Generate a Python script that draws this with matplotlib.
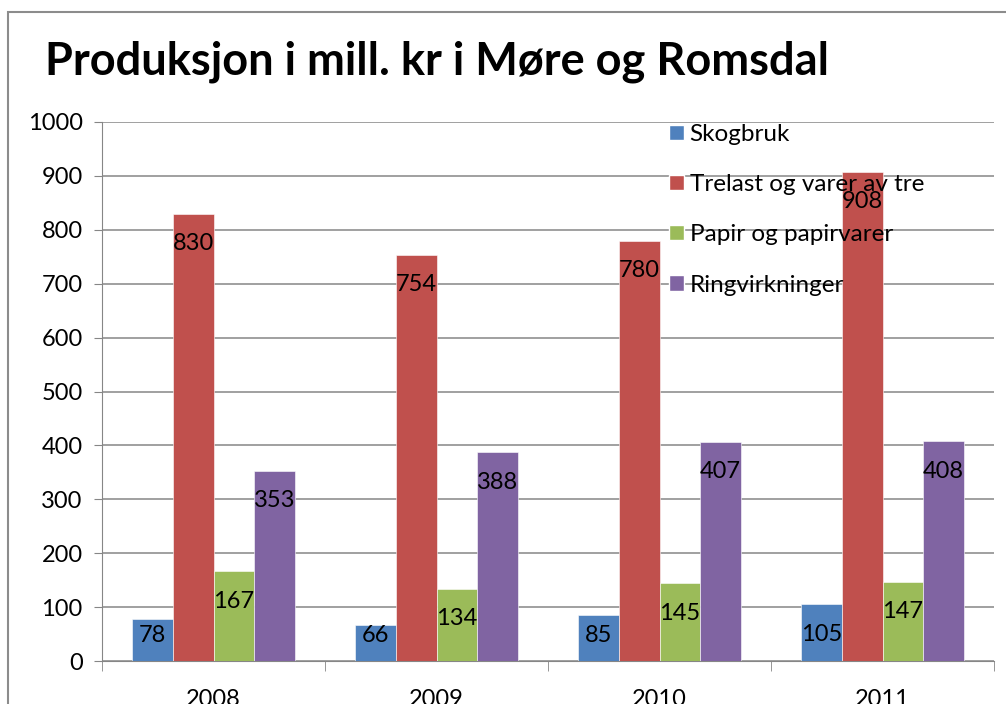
import matplotlib
matplotlib.use("Agg")
import matplotlib.pyplot as plt
import numpy as np
from matplotlib.patches import Rectangle, Patch

plt.rcParams['font.family'] = ['Lato', 'DejaVu Sans']

years = ["2008", "2009", "2010", "2011"]
series_names = ["Skogbruk", "Trelast og varer av tre", "Papir og papirvarer", "Ringvirkninger"]
skogbruk = [78, 66, 85, 105]
trelast = [830, 754, 780, 908]
papir = [167, 134, 145, 147]
ringvirkninger = [353, 388, 407, 408]
colors = ["#4F81BD", "#C0504D", "#9BBB59", "#8064A2"]

W, H = 1006, 704
fig = plt.figure(figsize=(W / 100, H / 100), dpi=100)

# outer chart frame (cut off at right/bottom like the screenshot)
fig.patches.append(Rectangle((8 / W, -0.1), 1.2, 1 - 12 / H + 0.1,
                             transform=fig.transFigure, fill=False,
                             edgecolor="#8c8c8c", linewidth=1.5))

ax = fig.add_axes([102 / W, 1 - 661 / H, (994 - 102) / W, (661 - 122) / H])

x = np.arange(len(years))
bw = 0.1825
all_series = [skogbruk, trelast, papir, ringvirkninger]
for i, (vals, c) in enumerate(zip(all_series, colors)):
    pos = x + (i - 1.5) * bw
    ax.bar(pos, vals, width=bw, color=c, edgecolor="white", linewidth=0.4, zorder=3)
    for p, v in zip(pos, vals):
        ax.text(p, max(v - 56, 48), str(v), ha="center", va="center",
                fontsize=17, color="black", zorder=5)

ax.set_xlim(-0.5, len(years) - 0.5)
ax.set_ylim(0, 1000)
ax.set_yticks(np.arange(0, 1001, 100))
ax.tick_params(axis="y", labelsize=17, length=6, color="#868686", pad=8)
ax.yaxis.grid(True, color="#868686", linewidth=1.1, zorder=0)

ax.set_xticks(x)
ax.set_xticklabels(years)
ax.set_xticks(np.arange(-0.5, len(years)), minor=True)
ax.tick_params(axis="x", which="major", length=0, labelsize=17, pad=20)
ax.tick_params(axis="x", which="minor", length=7, color="#868686")

for s in ["top", "right"]:
    ax.spines[s].set_visible(False)
ax.spines["left"].set_color("#868686")
ax.spines["bottom"].set_color("#868686")

handles = [Patch(facecolor=c, edgecolor="white") for c in colors]
leg = fig.legend(handles, series_names, loc="upper left",
                 bbox_to_anchor=(669 / W, 1 - 124 / H), frameon=False,
                 fontsize=17.5, handlelength=0.6, handleheight=0.6,
                 handletextpad=0.25, labelspacing=1.2, borderpad=0,
                 borderaxespad=0)
leg.set_zorder(10)

fig.text(45 / W, 1 - 62 / H, "Produksjon i mill. kr i Møre og Romsdal",
         fontsize=32.5, fontweight="bold", va="center", ha="left")

fig.savefig("out.png", dpi=100)
